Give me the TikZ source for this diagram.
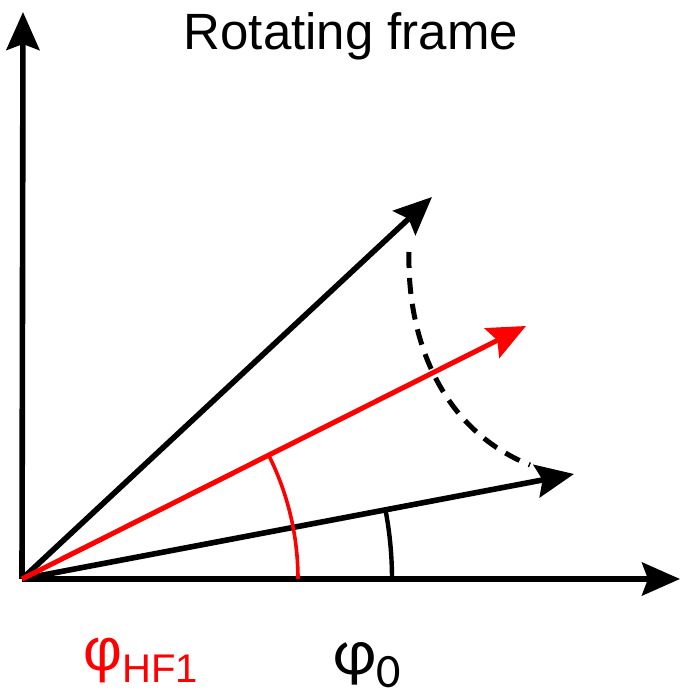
\documentclass[tikz,border=0pt]{standalone}
\usepackage{fontspec}
\setmainfont{Liberation Sans}
\newfontfamily\calfont{Carlito}
\usetikzlibrary{arrows.meta,calc}

\begin{document}
\begin{tikzpicture}[
    x=0.5pt, y=0.5pt,
    >={Stealth[length=19pt,width=16.5pt,inset=3pt]},
    line cap=butt,
    axis/.style={line width=2.8pt,->},
    vec/.style={line width=2.8pt,->},
    redvec/.style={line width=2.5pt,->,red},
    swing/.style={line width=2.5pt,dashed,dash pattern=on 8pt off 5pt},
    angmark/.style={line width=1.8pt}
]
  % frame of the picture
  \useasboundingbox (0,0) rectangle (681,697);

  % points
  \coordinate (O) at (22,118);
  \coordinate (xtip) at (680,118);
  \coordinate (ytip) at (23,685);
  \coordinate (vtop) at (432,500);
  \coordinate (vred) at (526,371);
  \coordinate (vlow) at (574,223);
  \coordinate (dstart) at (409,445);
  \coordinate (dend) at (530,232);

  % axes
  \draw[axis] (O) -- (xtip);
  \draw[axis] (O) -- (ytip);

  % vectors
  \draw[vec] (O) -- (vtop);
  \draw[vec] (O) -- (vlow);
  \draw[redvec] (O) -- (vred);

  % swing between the two black vectors
  \draw[swing] (dstart) .. controls (407,360) and (440,268) .. (dend);

  % angle marks
  \draw[angmark,red] ($(O)+(276,0)$) arc[start angle=0,end angle=26.7,radius=276];
  \draw[angmark,line width=2.2pt] ($(O)+(370,0)$) arc[start angle=0,end angle=10.8,radius=370];

  % labels
  \node[anchor=base,inner sep=0pt,font=\fontsize{25.5}{30}\selectfont] (title) at (351,647) {Rotating frame};
  \node[anchor=base west,inner sep=0pt,red,font=\fontsize{30}{34}\selectfont] (lblhf) at (83,26)
    {φ\raisebox{-6pt}{\fontsize{20}{24}\selectfont HF1}};
  \node[anchor=base west,inner sep=0pt,font=\calfont\fontsize{33}{38}\selectfont] (lblzero) at (333,22)
    {φ\raisebox{-6pt}{\fontsize{24}{28}\selectfont 0}};
\end{tikzpicture}
\end{document}
